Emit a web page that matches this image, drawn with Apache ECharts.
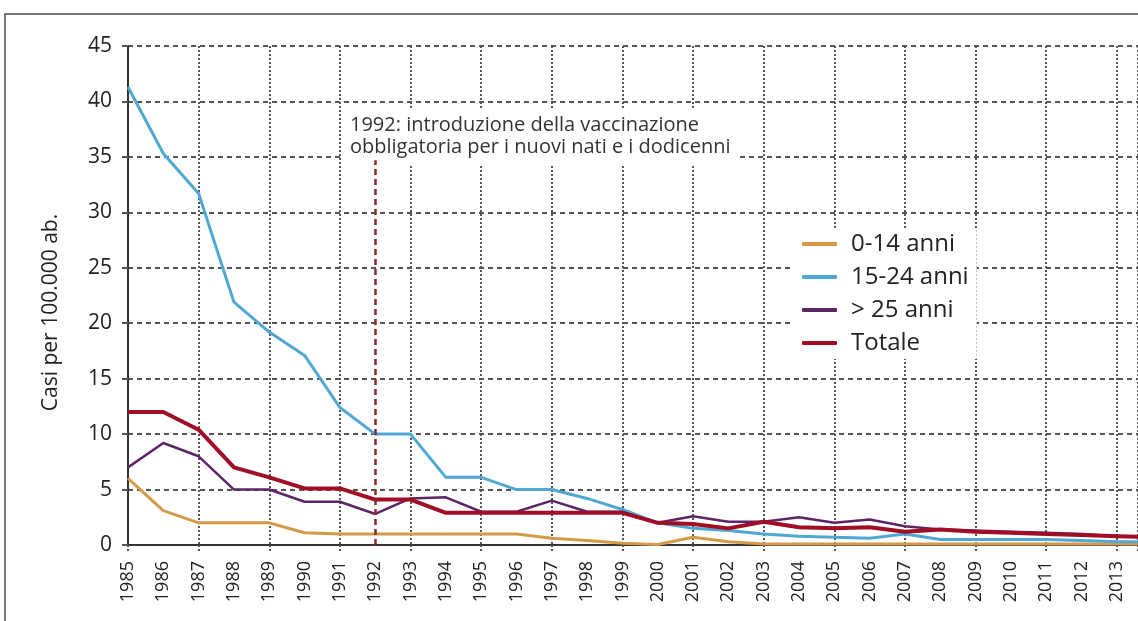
<!DOCTYPE html>
<html>
<head>
<meta charset="utf-8">
<script src="https://cdn.jsdelivr.net/npm/echarts@6/dist/echarts.min.js"></script>
<style>
  html, body { margin: 0; padding: 0; background: #f4f4f4; }
  #chart { width: 1138px; height: 621px; }
</style>
</head>
<body>
<div id="chart"></div>
<script>
// anni
const years = [1985, 1986, 1987, 1988, 1989, 1990, 1991, 1992, 1993, 1994,
  1995, 1996, 1997, 1998, 1999, 2000, 2001, 2002, 2003, 2004,
  2005, 2006, 2007, 2008, 2009, 2010, 2011, 2012, 2013, 2014]

// casi per 100.000 ab.
const anni0_14 = [6, 3.1, 2, 2, 2, 1.1, 1, 1, 1, 1,
  1, 1, 0.6, 0.4, 0.15, 0.05, 0.7, 0.3, 0.1, 0.1,
  0.1, 0.1, 0.1, 0.1, 0.1, 0.1, 0.1, 0.1, 0.1, 0.1]
const anni15_24 = [41.3, 35.3, 31.7, 21.9, 19.2, 17.1, 12.4, 10, 10, 6.1,
  6.1, 5, 5, 4.2, 3.2, 2, 1.5, 1.3, 1, 0.8,
  0.7, 0.6, 1, 0.5, 0.5, 0.5, 0.5, 0.4, 0.3, 0.3]
const anniOver25 = [7, 9.2, 8, 5, 5, 3.9, 3.9, 2.8, 4.2, 4.3,
  3, 3, 4, 3, 3, 2, 2.6, 2.1, 2.1, 2.5,
  2, 2.3, 1.7, 1.4, 1.3, 1.2, 1.1, 1, 0.8, 0.7]
const totale = [12, 12, 10.4, 7, 6.1, 5.1, 5.1, 4.1, 4.1, 2.9,
  2.9, 2.9, 2.9, 2.9, 2.9, 2, 1.9, 1.5, 2.1, 1.6,
  1.5, 1.6, 1.2, 1.4, 1.2, 1.1, 1, 0.9, 0.8, 0.7]

const yTicks = { min: 0, max: 45, step: 5 }
const noteYear = 1992
const noteTop = 34.7
const noteText = '1992: introduzione della vaccinazione\nobbligatoria per i nuovi nati e i dodicenni'

const font = "'Open Sans', sans-serif"

const pairs = (arr) => years.map((y, i) => [y, arr[i]])

let myChart = echarts.init(document.getElementById('chart'))

const lineSeries = (name, arr, color, width) => ({
  name: name,
  type: 'line',
  data: pairs(arr),
  symbol: 'none',
  color: color,
  lineStyle: { color: color, width: width },
  z: 3
})

let option = {
  backgroundColor: '#ffffff',
  animation: false,
  textStyle: { fontFamily: font },
  grid: { left: 128, right: 0, top: 46, bottom: 76 },
  legend: {
    orient: 'vertical',
    left: 794,
    top: 228,
    icon: 'roundRect',
    itemWidth: 35,
    itemHeight: 4,
    itemGap: 9,
    backgroundColor: '#ffffff',
    padding: [4, 8, 4, 8],
    textStyle: { fontFamily: font, fontSize: 24, lineHeight: 24, color: '#222', padding: [0, 0, 0, 9] },
    data: ['0-14 anni', '15-24 anni', '> 25 anni', 'Totale']
  },
  xAxis: [
    {
      type: 'value',
      min: 1985,
      max: 2013.6,
      interval: 1,
      axisLine: { lineStyle: { color: '#333', width: 2 } },
      axisTick: { show: false },
      splitLine: { show: false },
      axisLabel: {
        rotate: 90,
        fontSize: 18,
        color: '#222',
        margin: 16,
        showMaxLabel: false,
        formatter: (v) => (Number.isInteger(v) ? String(v) : '')
      }
    },
    {
      type: 'value',
      position: 'bottom',
      min: 1985,
      max: 2013.6,
      interval: 2,
      axisLine: { show: false },
      axisLabel: { show: false },
      axisTick: { show: true, inside: false, length: 8, lineStyle: { color: '#555', type: 'dotted', width: 2 } },
      splitLine: { show: true, lineStyle: { color: '#555', type: 'dotted', width: 2 } }
    }
  ],
  yAxis: {
    type: 'value',
    min: yTicks.min,
    max: yTicks.max,
    interval: yTicks.step,
    name: 'Casi per 100.000 ab.',
    nameLocation: 'middle',
    nameGap: 66,
    nameTextStyle: { fontFamily: font, fontSize: 21, color: '#222', padding: [0, 34, 0, 0] },
    axisLine: { show: true, lineStyle: { color: '#333', width: 2 } },
    axisTick: { show: true, length: 6, lineStyle: { color: '#555', type: 'dashed', width: 2 } },
    axisLabel: { fontSize: 21, color: '#222', margin: 16 },
    splitLine: { lineStyle: { color: '#555', type: [5, 4], width: 2 } }
  },
  graphic: [
    {
      type: 'rect',
      shape: { x: 5, y: 14, width: 1160, height: 640 },
      style: { fill: 'none', stroke: '#777', lineWidth: 2 },
      z: 10
    },
    {
      type: 'text',
      left: 344,
      top: 110,
      z: 5,
      style: {
        text: noteText,
        fontFamily: font,
        fontSize: 20,
        lineHeight: 22,
        fill: '#333',
        backgroundColor: '#ffffff',
        padding: [4, 6, 6, 6]
      }
    }
  ],
  series: [
    lineSeries('0-14 anni', anni0_14, '#d49a48', 3),
    lineSeries('15-24 anni', anni15_24, '#4ea8d2', 3),
    lineSeries('> 25 anni', anniOver25, '#5e2566', 2.5),
    Object.assign(lineSeries('Totale', totale, '#a10d24', 4), {
      markLine: {
        silent: true,
        symbol: 'none',
        label: { show: false },
        lineStyle: { color: '#8a2a2a', type: [6, 4], width: 2.5 },
        data: [[{ coord: [noteYear, 0] }, { coord: [noteYear, noteTop] }]]
      }
    })
  ]
}

myChart.setOption(option)
window.addEventListener('resize', function () {
  myChart.resize()
})
</script>
</body>
</html>
